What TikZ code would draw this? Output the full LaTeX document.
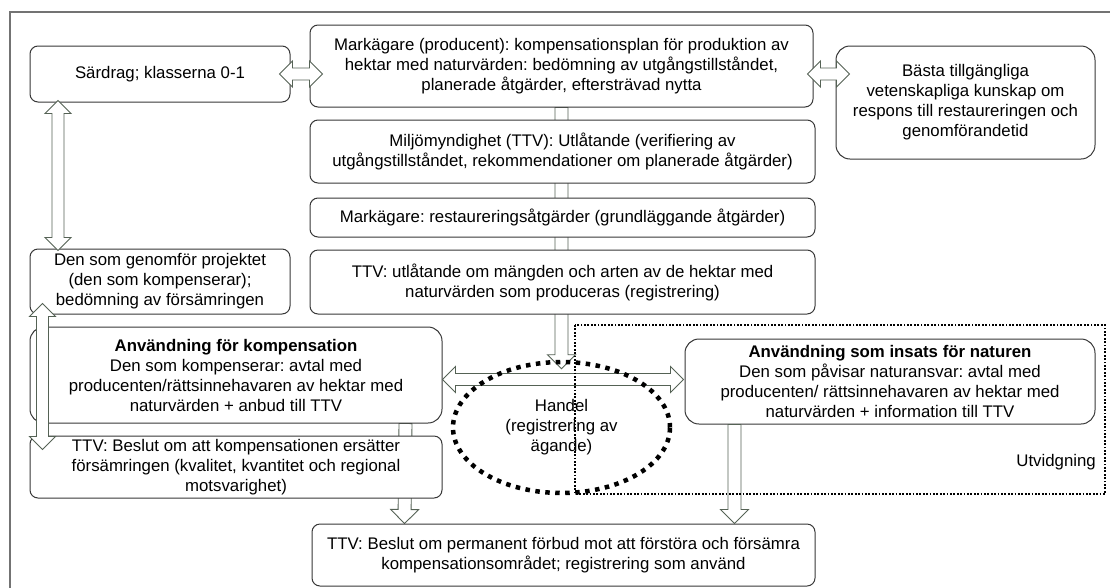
\documentclass[tikz,border=0pt]{standalone}
\usepackage{fontspec}
\setmainfont{Liberation Sans}
\usepackage{xcolor}
\usepackage{tikz}
\usetikzlibrary{shapes.geometric, calc, positioning}
\definecolor{framegray}{RGB}{115,115,115}
\definecolor{boxgray}{RGB}{55,55,55}
\definecolor{arrowgreen}{RGB}{85,98,85}
\pgfdeclarelayer{background}
\pgfsetlayers{background,main}
\frenchspacing

\tikzset{
    blockbase/.style={draw=arrowgreen, fill=white, line width=0.9pt},
    % hollow arrow with one head
    singleblock/.style={blockbase, to path={let \p1=(\tikztostart), \p2=(\tikztotarget), \n1={atan2(\y2-\y1,\x2-\x1)} in
        ($(\p1)+(\n1+90:6.5pt)$) -- ($(\p2)+(\n1+180:14pt)+(\n1+90:6.5pt)$) -- ($(\p2)+(\n1+180:14pt)+(\n1+90:14pt)$) -- (\p2)
        -- ($(\p2)+(\n1+180:14pt)+(\n1-90:14pt)$) -- ($(\p2)+(\n1+180:14pt)+(\n1-90:6.5pt)$) -- ($(\p1)+(\n1-90:6.5pt)$) -- cycle}},
    % hollow arrow with two heads
    doubleblock/.style={blockbase, to path={let \p1=(\tikztostart), \p2=(\tikztotarget), \n1={atan2(\y2-\y1,\x2-\x1)} in
        ($(\p1)+(\n1:13pt)+(\n1+90:6pt)$) -- ($(\p2)+(\n1+180:13pt)+(\n1+90:6pt)$) -- ($(\p2)+(\n1+180:13pt)+(\n1+90:13pt)$) -- (\p2)
        -- ($(\p2)+(\n1+180:13pt)+(\n1-90:13pt)$) -- ($(\p2)+(\n1+180:13pt)+(\n1-90:6pt)$) -- ($(\p1)+(\n1:13pt)+(\n1-90:6pt)$)
        -- ($(\p1)+(\n1:13pt)+(\n1-90:13pt)$) -- (\p1) -- ($(\p1)+(\n1:13pt)+(\n1+90:13pt)$) -- cycle}}
}

\begin{document}
\begin{tikzpicture}[x=1pt, y=-1pt,
    stage/.style={rectangle, draw=boxgray, fill=white, line width=1pt, rounded corners=8pt, align=center, inner sep=2pt, font=\fontsize{16.8}{20}\selectfont},
    usage/.style={stage, rounded corners=14pt},
    trade/.style={ellipse, draw=black, line width=4.5pt, dash pattern=on 4.5pt off 5.5pt, minimum width=217pt, minimum height=131pt, inner sep=0pt, align=center, font=\fontsize{16.8}{20}\selectfont},
    scopeline/.style={draw=black, line width=1.8pt, dash pattern=on 1.8pt off 1.6pt}
]
    \useasboundingbox (0,0) rectangle (1110,587);
    \draw[framegray, line width=1.5pt] (1112,12) -- (10,12) -- (10,589);

    % Left column
    \node[stage, minimum width=260pt, minimum height=56pt] (sard) at (160,74) {Särdrag; klasserna 0-1};
    \node[stage, minimum width=260pt, minimum height=65pt] (genomf) at (160,281.5) {Den som genomför projektet\\(den som kompenserar);\\bedömning av försämringen};
    \node[usage, minimum width=412pt, minimum height=96pt] (komp) at (236,375) {\textbf{Användning för kompensation}\\Den som kompenserar: avtal med\\producenten/rättsinnehavaren av hektar med\\naturvärden + anbud till TTV};
    \node[stage, minimum width=412pt, minimum height=62pt] (beslut) at (236,467) {TTV: Beslut om att kompensationen ersätter\\försämringen (kvalitet, kvantitet och regional\\motsvarighet)};

    % Middle column
    \node[stage, minimum width=503pt, minimum height=82pt] (prod) at (561.5,66) {Markägare (producent): kompensationsplan för produktion av\\hektar med naturvärden: bedömning av utgångstillståndet,\\planerade åtgärder, eftersträvad nytta};
    \node[stage, minimum width=505pt, minimum height=63pt] (yttrande) at (562.5,151.5) {Miljömyndighet (TTV): Utlåtande (verifiering av\\utgångstillståndet, rekommendationer om planerade åtgärder)};
    \node[stage, minimum width=505pt, minimum height=39pt] (restaur) at (562.5,217.5) {Markägare: restaureringsåtgärder (grundläggande åtgärder)};
    \node[stage, minimum width=505pt, minimum height=64pt] (registr) at (562.5,282) {TTV: utlåtande om mängden och arten av de hektar med\\naturvärden som produceras (registrering)};
    \node[stage, minimum width=503pt, minimum height=62pt] (perm) at (563.5,555) {TTV: Beslut om permanent förbud mot att förstöra och försämra\\kompensationsområdet; registrering som använd};

    % Right column
    \node[usage, minimum width=259pt, minimum height=113pt] (kunskap) at (965.5,102.5) {Bästa tillgängliga\\vetenskapliga kunskap om\\respons till restaureringen och\\genomförandetid};
    \node[usage, minimum width=410pt, minimum height=85pt] (insats) at (890,381.5) {\textbf{Användning som insats för naturen}\\Den som påvisar naturansvar: avtal med\\producenten/ rättsinnehavaren av hektar med\\naturvärden + information till TTV};

    % Two-way links
    \draw[doubleblock] ($(sard.east)+(-11,0)$) to ($(prod.west |- sard.east)+(13,0)$);
    \draw[doubleblock] ($(prod.east |- sard.east)+(-6,0)$) to ($(kunskap.west |- sard.east)+(14,0)$);
    \draw[doubleblock] ($(sard.south west)+(28.5,-2)$) to ($(genomf.north west)+(28.5,2)$);
    \draw[doubleblock] ($(genomf.south west)+(13,-11)$) to ($(beslut.north west)+(13,14)$);
    \draw[doubleblock] ($(komp.east)+(0,4.5)$) to ($(insats.west |- komp.east)+(-1,4.5)$);

    \node[trade] (handel) at (561.5,427.5) {Handel\\(registrering av\\ägande)};

    % Flow downwards
    \begin{pgfonlayer}{background}
        \draw[singleblock] (prod.south) to ($(handel.north)+(0,9)$);
        \draw[singleblock] ($(komp.south east)+(-37,0)$) to ($(perm.north west)+(93,0)$);
    \end{pgfonlayer}
    \draw[singleblock] ($(insats.south west)+(50,0)$) to ($(perm.north west)+(423,0)$);

    % Extension area
    \coordinate (utvtop) at (575,325);
    \coordinate (utvbot) at (1105,494);
    \draw[scopeline] (utvtop) rectangle (utvbot);
    \node[anchor=east, font=\fontsize{16.8}{20}\selectfont, inner sep=0pt] (utv) at ($(utvbot)+(-9,-32)$) {Utvidgning};

\end{tikzpicture}
\end{document}
